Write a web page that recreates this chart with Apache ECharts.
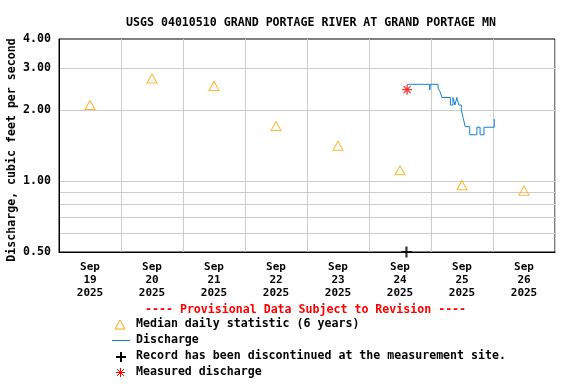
<!DOCTYPE html>
<html>
<head>
<meta charset="utf-8">
<script src="https://cdn.jsdelivr.net/npm/echarts@6/dist/echarts.min.js"></script>
<style>html,body{margin:0;padding:0;background:#fff}#c{width:576px;height:384px}</style>
</head>
<body>
<div id="c"></div>
<script>
// ---- data ----
const dayLabels = ['Sep\n19\n2025','Sep\n20\n2025','Sep\n21\n2025','Sep\n22\n2025','Sep\n23\n2025','Sep\n24\n2025','Sep\n25\n2025','Sep\n26\n2025'];
const medianValues = [2.1, 2.72, 2.53, 1.71, 1.41, 1.11, 0.96, 0.91];
const dischargeTimes = ['2025-09-24 14:45','2025-09-24 23:30','2025-09-24 23:45','2025-09-25 02:45','2025-09-25 03:30','2025-09-25 04:15','2025-09-25 07:30','2025-09-25 08:30','2025-09-25 09:15','2025-09-25 10:00','2025-09-25 10:45','2025-09-25 11:45','2025-09-25 12:30','2025-09-25 13:15','2025-09-25 15:00','2025-09-25 17:45','2025-09-25 19:00','2025-09-25 20:30','2025-09-26 00:30','2025-09-26 00:45'];
const dischargeValues = [2.57,2.43,2.57,2.47,2.39,2.26,2.10,2.26,2.10,2.26,2.10,1.99,1.84,1.70,1.57,1.69,1.57,1.69,1.83,1.83];
const discontinuedTime = ['2025-09-24 14:30'];
const discontinuedValue = [0.5];
const measuredTime = ['2025-09-24 14:45'];
const measuredValue = [2.44];
const yLabelValues = [0.5, 1, 2, 3, 4];
const yGridValues = [0.6, 0.7, 0.8, 0.9, 1, 2, 3];
const xRange = ['2025-09-19 00:00:00', '2025-09-27 00:00:00'];

const FONT = 'DejaVu Sans Mono';
const chart = echarts.init(document.getElementById('c'), null, {renderer: 'canvas'});
const plusPath = 'path://M4,0H6V10H4Z M0,4H10V6H0Z';
const starPath = 'path://M0,5L10,5M5,0L5,10M1.5,1.5L8.5,8.5M8.5,1.5L1.5,8.5';

const legendY = [325, 341, 357, 373];
const legendTexts = ['Median daily statistic (6 years)', 'Discharge', 'Record has been discontinued at the measurement site.', 'Measured discharge'];

chart.setOption({
  backgroundColor: '#fff',
  animation: false,
  title: {
    text: 'USGS 04010510 GRAND PORTAGE RIVER AT GRAND PORTAGE MN',
    left: 306, top: 12, textAlign: 'center',
    textStyle: {fontFamily: FONT, fontWeight: 'bold', fontSize: 11.6, color: '#000'}
  },
  grid: {left: 59, top: 39, right: 21, bottom: 132, outerBoundsMode: 'none', containLabel: false,
    show: true, borderColor: '#000', borderWidth: 1, backgroundColor: 'transparent'},
  xAxis: [{
    type: 'category', data: dayLabels, boundaryGap: true,
    axisLine: {lineStyle: {color: '#000', width: 1}},
    axisTick: {show: false, interval: 0},
    splitLine: {show: true, interval: 0, lineStyle: {color: '#cccccc', width: 1}},
    axisLabel: {interval: 0, margin: 9, fontFamily: FONT, fontWeight: 'bold', fontSize: 11, lineHeight: 13, color: '#000'}
  }, {
    type: 'time', show: false, min: xRange[0], max: xRange[1],
    splitLine: {show: false}
  }],
  yAxis: {
    type: 'log', logBase: 10, min: 0.5, max: 4,
    axisLine: {show: true, lineStyle: {color: '#000'}},
    axisTick: {show: false, customValues: yGridValues},
    splitLine: {show: true, lineStyle: {color: '#cccccc', width: 1}},
    axisLabel: {customValues: yLabelValues, margin: 8, fontFamily: FONT, fontWeight: 'bold', fontSize: 11.6, color: '#000',
      formatter: v => Number(v).toFixed(2)}
  },
  series: [{
    name: 'Median', type: 'scatter', xAxisIndex: 0, data: medianValues,
    symbol: 'triangle', symbolSize: [10, 9],
    itemStyle: {color: 'transparent', borderColor: '#ffa500', borderWidth: 1}
  }, {
    name: 'Discharge', type: 'line', xAxisIndex: 1, step: 'end', showSymbol: false,
    data: dischargeTimes.map((t, i) => [t, dischargeValues[i]]),
    lineStyle: {color: '#1582d0', width: 1}
  }, {
    name: 'Discontinued', type: 'scatter', xAxisIndex: 1, clip: false,
    data: discontinuedTime.map((t, i) => [t, discontinuedValue[i]]),
    symbol: plusPath, symbolSize: 11, itemStyle: {color: '#000'}, z: 5
  }, {
    name: 'Measured', type: 'scatter', xAxisIndex: 1,
    data: measuredTime.map((t, i) => [t, measuredValue[i]]),
    symbol: starPath, symbolSize: 10, itemStyle: {color: 'none', borderColor: '#ff0000', borderWidth: 1.3}, z: 6
  }],
  graphic: [
    {type: 'text', x: 12, y: 150, rotation: Math.PI / 2,
      style: {text: 'Discharge, cubic feet per second', fill: '#000', font: 'bold 11.6px "DejaVu Sans Mono"', align: 'center', verticalAlign: 'middle'}},
    {type: 'text', left: 145, top: 304, style: {text: '---- Provisional Data Subject to Revision ----', fill: '#ff0000', font: 'bold 11.6px "DejaVu Sans Mono"'}},
    {type: 'polygon', shape: {points: [[120, 320], [115, 329], [125, 329]]}, style: {fill: 'none', stroke: '#ffa500', lineWidth: 1}},
    {type: 'line', shape: {x1: 112, y1: 340.5, x2: 130, y2: 340.5}, style: {stroke: '#1582d0', lineWidth: 1}},
    {type: 'polygon', shape: {points: [[120,352],[122,352],[122,356],[126,356],[126,358],[122,358],[122,362],[120,362],[120,358],[116,358],[116,356],[120,356]]}, style: {fill: '#000'}},
    {type: 'group', children: [
      {type: 'line', shape: {x1: 116, y1: 372.5, x2: 125, y2: 372.5}, style: {stroke: '#f00', lineWidth: 1}},
      {type: 'line', shape: {x1: 120.5, y1: 368, x2: 120.5, y2: 377}, style: {stroke: '#f00', lineWidth: 1}},
      {type: 'line', shape: {x1: 117, y1: 369, x2: 124, y2: 376}, style: {stroke: '#f00', lineWidth: 1}},
      {type: 'line', shape: {x1: 124, y1: 369, x2: 117, y2: 376}, style: {stroke: '#f00', lineWidth: 1}}
    ]}
  ].concat(legendTexts.map((t, i) => ({
    type: 'text', left: 136, top: legendY[i] - 7,
    style: {text: t, fill: '#000', font: 'bold 11.6px "DejaVu Sans Mono"'}
  })))
});
</script>
</body>
</html>
